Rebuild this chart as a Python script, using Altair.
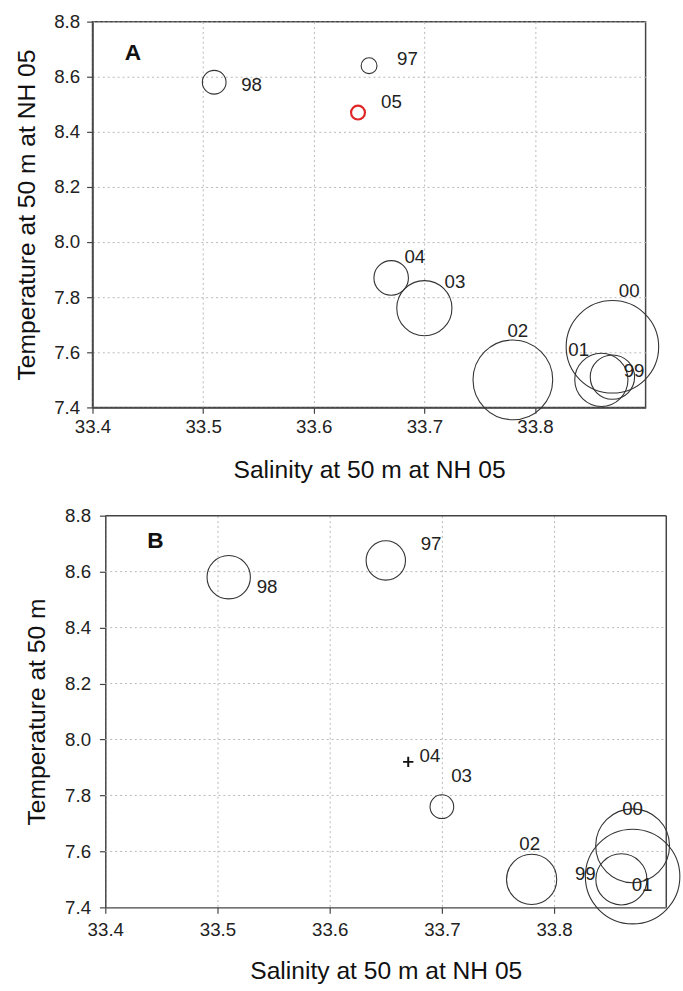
import altair as alt
import pandas as pd

# ---------------- data ----------------
years_a = ["97", "98", "99", "00", "01", "02", "03", "04", "05"]
sal_a = [33.65, 33.51, 33.87, 33.87, 33.86, 33.78, 33.70, 33.67, 33.64]
temp_a = [8.64, 8.58, 7.51, 7.62, 7.50, 7.50, 7.76, 7.87, 8.47]
abund_a = [2.6, 5.8, 20.3, 88.4, 29.2, 65.6, 31.4, 12.3, 2.0]

years_b = ["97", "98", "99", "00", "01", "02", "03", "04"]
sal_b = [33.65, 33.51, 33.87, 33.87, 33.86, 33.78, 33.70, 33.67]
temp_b = [8.64, 8.58, 7.51, 7.62, 7.50, 7.50, 7.76, 7.92]
abund_b = [16.0, 19.4, 92.2, 56.3, 27.0, 26.0, 5.8, 0.0]

x_ticks = [33.4, 33.5, 33.6, 33.7, 33.8]
y_ticks = [7.4, 7.6, 7.8, 8.0, 8.2, 8.4, 8.6, 8.8]

# ---------------- styles ----------------
FONT = "Liberation Sans"
INK = "#333333"
RED = "#e02626"
FRAME = "#444444"
GRID = "#b8b8b8"

# label offsets (px) relative to each bubble centre
OFF_A = {"98": (38, 3), "97": (39, -7), "05": (34, -11), "04": (24, -21),
         "03": (31, -27), "02": (5, -50), "00": (17, -57), "01": (-23, -30),
         "99": (22, -6)}
OFF_B = {"98": (39, 10), "97": (46, -17), "04": (22, -6), "03": (20, -31),
         "02": (-2, -36), "00": (0, -37), "01": (21, 6), "99": (-48, -3)}

df_a = pd.DataFrame({"year": years_a, "sal": sal_a, "temp": temp_a, "abund": abund_a})
df_b = pd.DataFrame({"year": years_b, "sal": sal_b, "temp": temp_b, "abund": abund_b})

common = dict(labelFontSize=19, titleFontSize=25, labelFont=FONT, titleFont=FONT,
              titleFontWeight="normal", labelColor="#222222", titleColor="#111111",
              domainColor=FRAME, domainWidth=1.5, tickColor=FRAME, tickWidth=1.2,
              tickSize=6, gridColor=GRID, gridDash=[2, 3], gridWidth=1,
              labelFlush=False, labelOverlap=False)


def panel(df, letter, letter_pos, ytitle, w, h, offsets, xax, yax, left_inset=0):
    xscale = alt.Scale(domain=[33.4, 33.9], nice=False, zero=False)
    if left_inset:
        xscale = alt.Scale(domain=[33.4, 33.9], nice=False, zero=False,
                           range=[left_inset, w])
    xenc = alt.X("sal:Q", scale=xscale,
                 axis=alt.Axis(values=x_ticks, format=".1f", grid=True,
                               title="Salinity at 50 m at NH 05", **xax, **common))
    yaxis_kw = dict(values=y_ticks, format=".1f", title=ytitle, **yax, **common)
    if left_inset:
        yaxis_kw.update(grid=False, offset=-left_inset)
    else:
        yaxis_kw.update(grid=True)
    yenc = alt.Y("temp:Q",
                 scale=alt.Scale(domain=[7.4, 8.8], nice=False, zero=False),
                 axis=alt.Axis(**yaxis_kw))
    layers = []
    if left_inset:
        # horizontal grid lines, frame top and right edges for the inset panel
        layers.append(
            alt.Chart(pd.DataFrame({"temp": y_ticks[1:-1]})).mark_rule(
                color=GRID, strokeDash=[2, 3], strokeWidth=1
            ).encode(y=yenc, x=alt.value(left_inset), x2=alt.value(w))
        )
        one = pd.DataFrame({"k": [0]})
        layers.append(alt.Chart(one).mark_rule(color=FRAME, strokeWidth=1.5).encode(
            x=alt.value(left_inset), x2=alt.value(w), y=alt.value(0)))
        layers.append(alt.Chart(one).mark_rule(color=FRAME, strokeWidth=1.5).encode(
            x=alt.value(w), y=alt.value(0), y2=alt.value(h)))
    base = alt.Chart(df)
    circles = base.transform_filter(alt.datum.abund > 0).mark_point(
        shape="circle", filled=False, opacity=1, clip=False
    ).encode(
        x=xenc, y=yenc,
        size=alt.Size("abund:Q", scale=alt.Scale(domain=[0, 100], range=[0, 10000]), legend=None),
        color=alt.condition(alt.datum.year == "05", alt.value(RED), alt.value(INK)),
        strokeWidth=alt.condition(alt.datum.year == "05", alt.value(2.2), alt.value(1.1)),
    )
    layers.append(circles)
    plus = base.transform_filter(alt.datum.abund == 0).mark_point(
        shape="M-1,0L1,0M0,-1L0,1", filled=False, opacity=1, size=110,
        strokeWidth=2, color="#111111"
    ).encode(x=xenc, y=yenc)
    layers.append(plus)
    for yr, (dx, dy) in offsets.items():
        layers.append(
            base.transform_filter(alt.datum.year == yr).mark_text(
                dx=dx, dy=dy, fontSize=19, font=FONT, color="#222222",
                align="center", baseline="middle", clip=False
            ).encode(x=xenc, y=yenc, text="year:N")
        )
    layers.append(
        alt.Chart(pd.DataFrame({"t": [letter]})).mark_text(
            fontSize=23, fontWeight="bold", font=FONT, color="#111111",
            align="center", baseline="middle"
        ).encode(x=alt.value(letter_pos[0]), y=alt.value(letter_pos[1]), text="t:N")
    )
    ch = alt.layer(*layers).properties(width=w, height=h)
    if left_inset:
        ch = ch.properties(view=alt.ViewBackground(stroke="transparent"))
    return ch


panel_a = panel(df_a, "A", (41, 32), "Temperature at 50 m at NH 05", 562, 392, OFF_A,
                xax=dict(labelPadding=4, titlePadding=22),
                yax=dict(labelPadding=7, titlePadding=15))
panel_b = panel(df_b, "B", (64, 26), "Temperature at 50 m", 583, 398, OFF_B,
                xax=dict(labelPadding=8, titlePadding=19),
                yax=dict(labelPadding=9, titlePadding=15),
                left_inset=13)

chart = alt.vconcat(panel_a, panel_b, spacing=23).properties(
    padding={"left": 13, "top": 4, "right": 0, "bottom": 0},
    background="white",
).configure_view(stroke=FRAME, strokeWidth=1.5)

chart.save("out.html", embed_options={"renderer": "svg", "actions": False})
